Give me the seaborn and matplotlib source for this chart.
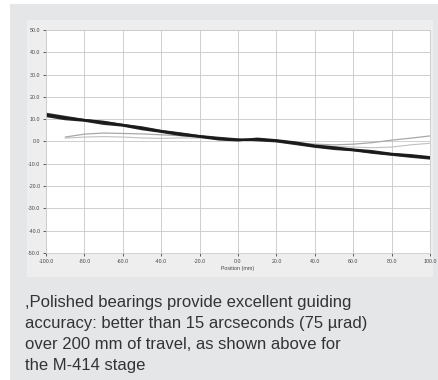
import numpy as np
import pandas as pd
import matplotlib
matplotlib.use("Agg")
import matplotlib.pyplot as plt
import seaborn as sns
from matplotlib.patches import Rectangle

# Stage position along travel (mm)
position = [-100, -90, -80, -70, -60, -50, -40, -30, -20, -10, 0,
            10, 20, 30, 40, 50, 60, 70, 80, 90, 100]

# Measured angular deviation (arcsec) for each run
run_a = [12.0, 10.6, 9.6, 8.6, 7.4, 6.0, 4.6, 3.4, 2.3, 1.3, 0.7,
         0.9, 0.3, -0.8, -2.1, -3.0, -3.8, -4.8, -5.7, -6.5, -7.3]
run_b = [11.4, 10.0, 9.3, 7.9, 7.1, 5.5, 4.3, 2.9, 2.1, 0.9, 0.5,
         1.3, 0.6, -0.4, -1.8, -2.6, -3.6, -4.3, -5.5, -6.1, -7.0]
run_c = [12.5, 11.1, 9.7, 8.9, 7.5, 6.4, 4.8, 3.7, 2.5, 1.7, 1.0,
         0.5, 0.0, -1.2, -2.4, -3.4, -4.0, -5.1, -6.0, -6.9, -7.7]
run_d = [np.nan, 2.0, 3.3, 3.8, 3.6, 3.4, 3.0, 2.6, 2.0, 1.4, 0.8,
         0.9, 0.2, -0.5, -1.2, -1.5, -1.2, -0.5, 0.6, 1.5, 2.5]
run_e = [np.nan, 1.5, 2.0, 2.2, 2.0, 1.6, 1.4, 1.6, 1.5, 1.0, 0.5,
         0.7, 0.1, -0.8, -1.6, -2.2, -2.5, -2.8, -2.5, -1.5, -0.8]

y_ticks = [50, 40, 30, 20, 10, 0, -10, -20, -30, -40, -50]
x_ticks = [-100, -80, -60, -40, -20, 0, 20, 40, 60, 80, 100]

caption_lines = [
    ",Polished bearings provide excellent guiding",
    "accuracy: better than 15 arcseconds (75 \u00b5rad)",
    "over 200 mm of travel, as shown above for",
    "the M-414 stage",
]

runs = {"a": run_a, "b": run_b, "c": run_c, "d": run_d, "e": run_e}
df = pd.concat(
    [pd.DataFrame({"position": position, "deviation": vals, "run": name})
     for name, vals in runs.items()],
    ignore_index=True,
)

sns.set_theme(style="white")
plt.rcParams["font.family"] = ["Liberation Sans", "DejaVu Sans"]

fig = plt.figure(figsize=(4.38, 3.80), dpi=100)
fig.patch.set_facecolor("white")

# Grey page background and lighter chart panel
fig.add_artist(Rectangle((10 / 438, 0), 428 / 438, 376 / 380,
                         transform=fig.transFigure, facecolor="#e5e6e8",
                         edgecolor="none", zorder=-3))
fig.add_artist(Rectangle((27 / 438, 1 - 277 / 380), 406 / 438, 257 / 380,
                         transform=fig.transFigure, facecolor="#efeeef",
                         edgecolor="none", zorder=-2))

ax = fig.add_axes([46 / 438, 1 - 253 / 380, 384 / 438, 223 / 380])
ax.set_facecolor("white")

palette = {"a": "#1a1a1a", "b": "#262626", "c": "#353535",
           "d": "#a8a8a8", "e": "#c0c0c0"}
widths = {"a": 1.7, "b": 1.5, "c": 1.4, "d": 0.9, "e": 0.8}
for name in ["e", "d", "c", "b", "a"]:
    sub = df[df["run"] == name]
    sns.lineplot(data=sub, x="position", y="deviation", ax=ax,
                 color=palette[name], linewidth=widths[name],
                 legend=False, estimator=None)

ax.set_xlim(-100, 100)
ax.set_ylim(-50, 50)
ax.set_xticks(x_ticks)
ax.set_yticks(y_ticks)
ax.set_xticklabels([f"{v:.1f}" for v in x_ticks])
ax.set_yticklabels([f"{v:.1f}" for v in y_ticks])
ax.tick_params(axis="both", labelsize=3.8, colors="#444444", length=2.5,
               width=0.6, direction="out", pad=1.5, bottom=True, left=True)
ax.grid(True, color="#c8c8c8", linewidth=0.6)
ax.set_xlabel("Position (mm)", fontsize=3.8, color="#444444", labelpad=2)
ax.set_ylabel("")
for side in ["left", "bottom", "top", "right"]:
    ax.spines[side].set_color("#cccccc")
    ax.spines[side].set_linewidth(0.6)

baselines = [306.5, 327.8, 349.0, 370.2]
for line, yb in zip(caption_lines, baselines):
    fig.text(25 / 438, 1 - yb / 380, line, fontsize=12.0, color="#333333",
             ha="left", va="baseline")

fig.savefig("out.png", dpi=100, facecolor=fig.get_facecolor())
